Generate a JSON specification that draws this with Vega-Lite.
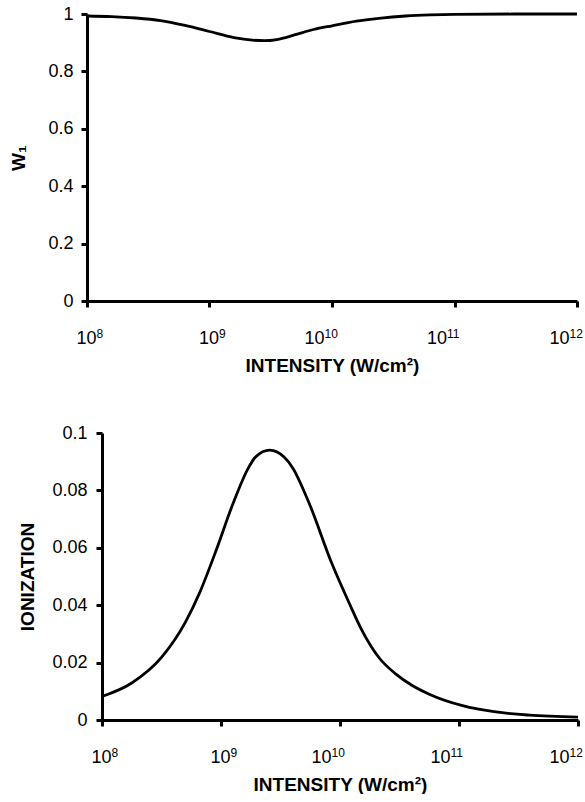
{
  "$schema": "https://vega.github.io/schema/vega-lite/v6.json",
  "background": "white",
  "padding": {"left": 8, "top": 5, "right": 0, "bottom": 0},
  "spacing": 49,
  "config": {
    "view": {"stroke": null},
    "font": "Liberation Sans",
    "axis": {
      "grid": false,
      "domainColor": "black",
      "domainWidth": 3,
      "tickColor": "black",
      "tickWidth": 3,
      "tickSize": 6,
      "labelFont": "Liberation Sans",
      "labelFontSize": 18,
      "labelColor": "black",
      "titleFont": "Liberation Sans",
      "titleFontSize": 19,
      "titleFontWeight": "bold",
      "titleColor": "black"
    }
  },
  "datasets": {
    "w1": [
      {"intensity": 1e8, "value": 0.993},
      {"intensity": 1.585e8, "value": 0.991},
      {"intensity": 2.512e8, "value": 0.986},
      {"intensity": 3.981e8, "value": 0.977},
      {"intensity": 6.310e8, "value": 0.960},
      {"intensity": 1e9, "value": 0.939},
      {"intensity": 1.585e9, "value": 0.918},
      {"intensity": 2.239e9, "value": 0.909},
      {"intensity": 2.818e9, "value": 0.907},
      {"intensity": 3.548e9, "value": 0.911},
      {"intensity": 5.012e9, "value": 0.928},
      {"intensity": 7.079e9, "value": 0.946},
      {"intensity": 1e10, "value": 0.959},
      {"intensity": 1.585e10, "value": 0.975},
      {"intensity": 2.512e10, "value": 0.986},
      {"intensity": 3.981e10, "value": 0.993},
      {"intensity": 6.310e10, "value": 0.997},
      {"intensity": 1e11, "value": 0.999},
      {"intensity": 3.162e11, "value": 1.0},
      {"intensity": 1e12, "value": 1.0}
    ],
    "ion": [
      {"intensity": 1e8, "value": 0.0082},
      {"intensity": 1.778e8, "value": 0.0129},
      {"intensity": 3.162e8, "value": 0.0218},
      {"intensity": 5.012e8, "value": 0.034},
      {"intensity": 6.607e8, "value": 0.0443},
      {"intensity": 9.120e8, "value": 0.0592},
      {"intensity": 1.230e9, "value": 0.0742},
      {"intensity": 1.718e9, "value": 0.0882},
      {"intensity": 1.950e9, "value": 0.0916},
      {"intensity": 2.570e9, "value": 0.0940},
      {"intensity": 3.388e9, "value": 0.0916},
      {"intensity": 3.981e9, "value": 0.0880},
      {"intensity": 5.495e9, "value": 0.0756},
      {"intensity": 8.511e9, "value": 0.0547},
      {"intensity": 1.202e10, "value": 0.0405},
      {"intensity": 1.514e10, "value": 0.0316},
      {"intensity": 2.138e10, "value": 0.0216},
      {"intensity": 2.951e10, "value": 0.0160},
      {"intensity": 3.981e10, "value": 0.0122},
      {"intensity": 5.623e10, "value": 0.0090},
      {"intensity": 1.072e11, "value": 0.0050},
      {"intensity": 2.042e11, "value": 0.0028},
      {"intensity": 3.890e11, "value": 0.0017},
      {"intensity": 1e12, "value": 0.0010}
    ]
  },
  "vconcat": [
    {
      "spacing": 0,
      "hconcat": [
        {
          "width": 1,
          "height": 1,
          "data": {"values": []},
          "mark": {"type": "point", "opacity": 0}
        },
        {
          "width": 490,
          "height": 287,
          "data": {"name": "w1"},
          "layer": [
            {
              "mark": {"type": "line", "color": "black", "strokeWidth": 2.8, "interpolate": "monotone"},
              "encoding": {
                "x": {
                  "field": "intensity", "type": "quantitative",
                  "scale": {"type": "log", "domain": [1e8, 1e12], "nice": false},
                  "axis": {
                    "values": [1e8, 1e9, 1e10, 1e11, 1e12],
                    "labelExpr": "'10'",
                    "labelAlign": "right",
                    "labelBaseline": "alphabetic",
                    "labelPadding": 36,
                    "labelOffset": {"condition": {"test": "datum.value < 5e9", "value": 9}, "value": -8},
                    "title": "INTENSITY (W/cm²)",
                    "titlePadding": 9
                  }
                },
                "y": {
                  "field": "value", "type": "quantitative",
                  "scale": {"domain": [0, 1], "nice": false},
                  "axis": {
                    "values": [0, 0.2, 0.4, 0.6, 0.8, 1],
                    "format": "~g",
                    "title": "W₁",
                    "labelPadding": 8,
                    "titlePadding": 19
                  }
                }
              }
            },
            {
              "mark": {"type": "line", "opacity": 0},
              "encoding": {
                "x": {
                  "field": "intensity", "type": "quantitative",
                  "axis": {
                    "orient": "bottom",
                    "values": [1e8, 1e9, 1e10, 1e11, 1e12],
                    "labelExpr": "'' + round(log(datum.value) / LN10)",
                    "labelAlign": "left",
                    "labelBaseline": "alphabetic",
                    "labelFontSize": 12,
                    "labelPadding": 30,
                    "labelOffset": {"condition": {"test": "datum.value < 5e9", "value": 9}, "value": -8},
                    "domain": false,
                    "tickColor": "transparent",
                    "title": null
                  }
                },
                "y": {"field": "value", "type": "quantitative"}
              }
            }
          ],
          "resolve": {"axis": {"x": "independent"}}
        }
      ]
    },
    {
      "spacing": 0,
      "hconcat": [
        {
          "width": 10,
          "height": 1,
          "data": {"values": []},
          "mark": {"type": "point", "opacity": 0}
        },
        {
          "width": 476,
          "height": 287,
          "data": {"name": "ion"},
          "layer": [
            {
              "mark": {"type": "line", "color": "black", "strokeWidth": 2.8, "interpolate": "monotone"},
              "encoding": {
                "x": {
                  "field": "intensity", "type": "quantitative",
                  "scale": {"type": "log", "domain": [1e8, 1e12], "nice": false},
                  "axis": {
                    "values": [1e8, 1e9, 1e10, 1e11, 1e12],
                    "labelExpr": "'10'",
                    "labelAlign": "right",
                    "labelBaseline": "alphabetic",
                    "labelPadding": 36,
                    "labelOffset": {"condition": {"test": "datum.value < 5e9", "value": 9}, "value": -9},
                    "title": "INTENSITY (W/cm²)",
                    "titlePadding": 9
                  }
                },
                "y": {
                  "field": "value", "type": "quantitative",
                  "scale": {"domain": [0, 0.1], "nice": false},
                  "axis": {
                    "values": [0, 0.02, 0.04, 0.06, 0.08, 0.1],
                    "format": "~g",
                    "title": "IONIZATION",
                    "labelPadding": 9,
                    "titlePadding": 14
                  }
                }
              }
            },
            {
              "mark": {"type": "line", "opacity": 0},
              "encoding": {
                "x": {
                  "field": "intensity", "type": "quantitative",
                  "axis": {
                    "orient": "bottom",
                    "values": [1e8, 1e9, 1e10, 1e11, 1e12],
                    "labelExpr": "'' + round(log(datum.value) / LN10)",
                    "labelAlign": "left",
                    "labelBaseline": "alphabetic",
                    "labelFontSize": 12,
                    "labelPadding": 30,
                    "labelOffset": {"condition": {"test": "datum.value < 5e9", "value": 9}, "value": -9},
                    "domain": false,
                    "tickColor": "transparent",
                    "title": null
                  }
                },
                "y": {"field": "value", "type": "quantitative"}
              }
            }
          ],
          "resolve": {"axis": {"x": "independent"}}
        }
      ]
    }
  ]
}
